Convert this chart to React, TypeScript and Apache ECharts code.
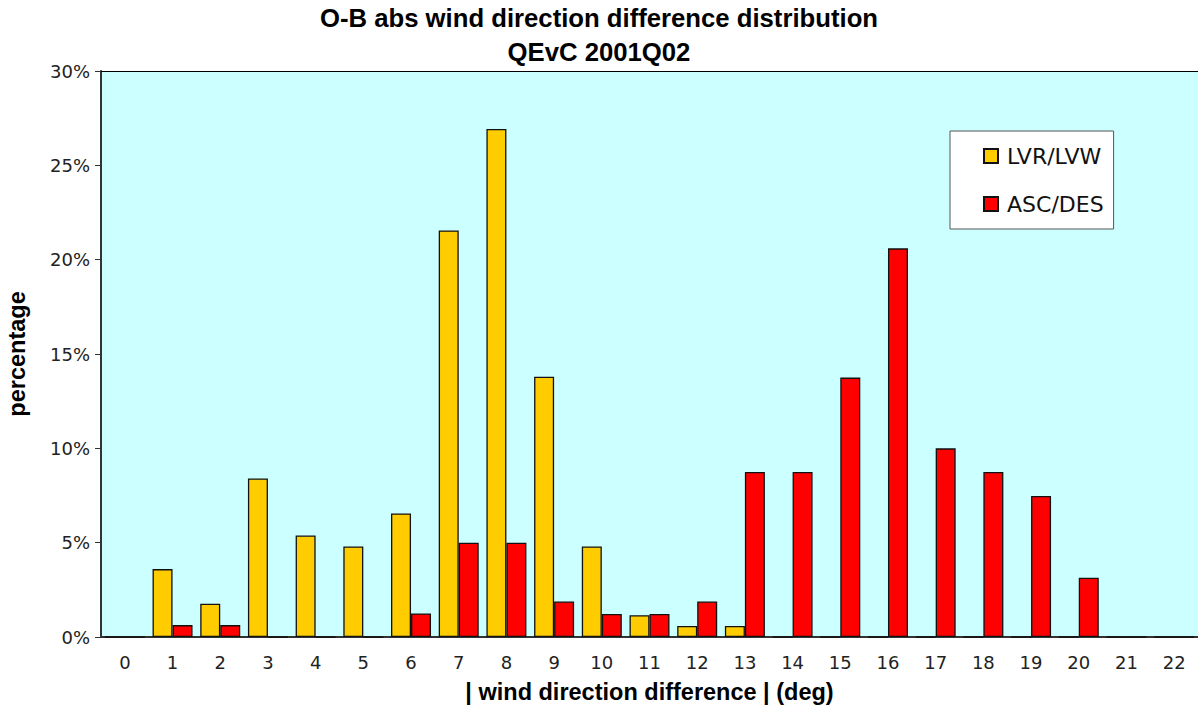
import React, { useEffect, useRef } from "react";
import * as echarts from "echarts";

const categories = ["0","1","2","3","4","5","6","7","8","9","10","11","12","13","14","15","16","17","18","19","20","21","22"];
const lvrValues = [0, 3.6, 1.76, 8.4, 5.38, 4.8, 6.55, 21.55, 26.93, 13.8, 4.8, 1.15, 0.58, 0.58, 0, 0, 0, 0, 0, 0, 0, 0, 0];
const ascValues = [0, 0.63, 0.63, 0, 0, 0, 1.25, 5.0, 5.0, 1.88, 1.22, 1.22, 1.88, 8.75, 8.75, 13.75, 20.6, 10.0, 8.75, 7.48, 3.14, 0, 0];
const yTicks = { min: 0, max: 30, interval: 5 };
const titleLines = ["O-B abs wind direction difference distribution", "QEvC 2001Q02"];

export default function App() {
  const ref = useRef<HTMLDivElement>(null);
  useEffect(() => {
    if (!ref.current) return;
    const chart = echarts.init(ref.current, null, { renderer: "svg" });
    const tickFont = { fontFamily: "DejaVu Sans", fontSize: 18, color: "#222" };
    const boldFont = { fontFamily: "Liberation Sans, Arial", fontWeight: "bold" as const, fontSize: 23.5, color: "#000" };
    chart.setOption({
      animation: false,
      backgroundColor: "#fff",
      title: {
        text: titleLines.join("\n"),
        left: "center",
        top: 1,
        padding: 0,
        textStyle: { ...boldFont, fontSize: 25.7, lineHeight: 34 },
      },
      legend: {
        orient: "vertical",
        left: 950,
        top: 131,
        backgroundColor: "#fff",
        borderColor: "#555",
        borderWidth: 1,
        padding: [14, 10, 14, 33],
        itemGap: 26,
        itemWidth: 14,
        itemHeight: 14,
        icon: "rect",
        textStyle: { fontFamily: "DejaVu Sans", fontSize: 22, color: "#111", padding: [0, 0, 0, 4] },
        data: ["LVR/LVW", "ASC/DES"],
      },
      grid: {
        left: 101,
        right: 0,
        top: 71,
        bottom: 76,
        outerBoundsMode: "none",
        containLabel: false,
        show: true,
        backgroundColor: "#CCFFFF",
        borderWidth: 0,
      },
      xAxis: [
        {
          type: "category",
          data: categories,
          axisLine: { lineStyle: { color: "#333", width: 2 } },
          axisTick: { show: false },
          axisLabel: { ...tickFont, margin: 16 },
          name: "| wind direction difference | (deg)",
          nameLocation: "middle",
          nameGap: 43,
          nameTextStyle: boldFont,
        },
        {
          type: "category",
          data: categories,
          position: "top",
          axisLine: { lineStyle: { color: "#000", width: 1 } },
          axisTick: { show: false },
          axisLabel: { show: false },
        },
      ],
      yAxis: {
        type: "value",
        min: yTicks.min,
        max: yTicks.max,
        interval: yTicks.interval,
        axisLine: { show: true, lineStyle: { color: "#333", width: 2 } },
        axisTick: { show: true, length: 6, lineStyle: { color: "#333" } },
        splitLine: { show: false },
        axisLabel: { ...tickFont, margin: 11, formatter: "{value}%" },
        name: "percentage",
        nameLocation: "middle",
        nameGap: 72,
        nameTextStyle: boldFont,
      },
      series: [
        {
          name: "LVR/LVW",
          type: "bar",
          data: lvrValues,
          barWidth: 20,
          barGap: "0%",
          itemStyle: { color: "#FFCC00", borderColor: "#111", borderWidth: 1.3 },
        },
        {
          name: "ASC/DES",
          type: "bar",
          data: ascValues,
          barWidth: 20,
          barGap: "0%",
          itemStyle: { color: "#FF0000", borderColor: "#111", borderWidth: 1.3 },
        },
      ],
    });
    return () => chart.dispose();
  }, []);
  return <div ref={ref} style={{ position: "fixed", left: 0, top: 0, width: 1198, height: 713 }} />;
}
